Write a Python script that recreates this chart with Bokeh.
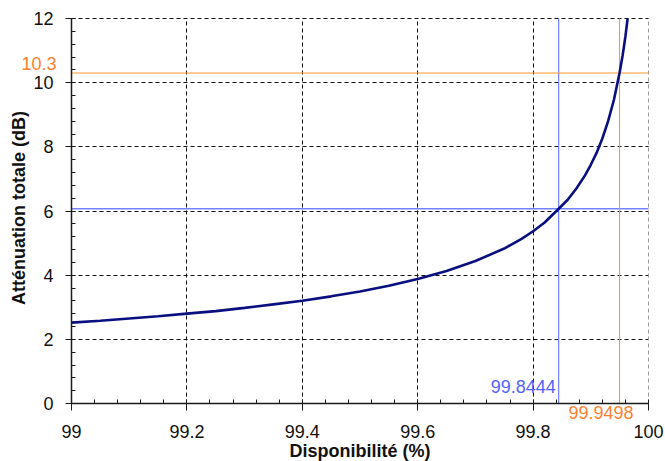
import math
from bokeh.plotting import figure
from bokeh.models import Label, FixedTicker, Range1d, Grid
from bokeh.embed import file_html
from bokeh.resources import INLINE

# Availability (%) vs total attenuation (dB)
availability = [99.00, 99.05, 99.10, 99.15, 99.20, 99.25, 99.30, 99.35, 99.40,
                99.45, 99.50, 99.55, 99.60, 99.65, 99.70, 99.75, 99.78, 99.80,
                99.82, 99.8444, 99.86, 99.875, 99.89, 99.90, 99.91, 99.92,
                99.93, 99.94, 99.9498, 99.955, 99.96, 99.9638]
attenuation = [2.52, 2.58, 2.65, 2.72, 2.80, 2.88, 2.98, 3.09, 3.20,
               3.34, 3.49, 3.67, 3.88, 4.13, 4.44, 4.83, 5.13, 5.37,
               5.64, 6.07, 6.35, 6.70, 7.11, 7.44, 7.81, 8.26,
               8.80, 9.46, 10.30, 10.83, 11.44, 12.00]

x_ticks = [99.0, 99.2, 99.4, 99.6, 99.8, 100.0]
y_ticks = [0, 2, 4, 6, 8, 10, 12]

# Marked operating points
blue_x, blue_y = 99.8444, 6.07
orange_x, orange_y = 99.9498, 10.3

FONT = "Liberation Sans"
BLUE = "#5163FF"
ORANGE_LINE = "#FF982E"
ORANGE_TEXT = "#FF7F30"
INK = "#111111"

# Canvas and the placement of the plotting area inside it
W, H = 665, 461
LEFT, RIGHT, TOP, BOTTOM = 71, 17, 18, 58
x0, x1 = x_ticks[0], x_ticks[-1]
y0, y1 = y_ticks[0], y_ticks[-1]
ux = (W - LEFT - RIGHT) / (x1 - x0)
uy = (H - TOP - BOTTOM) / (y1 - y0)

# The frame covers the whole canvas so that texts outside the data area stay visible
p = figure(width=W, height=H, output_backend="svg", toolbar_location=None,
           x_range=Range1d(x0 - LEFT / ux, x1 + RIGHT / ux),
           y_range=Range1d(y0 - BOTTOM / uy, y1 + TOP / uy),
           min_border=0, min_border_left=0, min_border_right=0,
           min_border_top=0, min_border_bottom=0)
p.outline_line_color = None
p.background_fill_color = "white"
p.border_fill_color = "white"

minor_x = [round(x0 + i * 0.04, 2) for i in range(26)]
minor_y = [round(i * 0.4, 1) for i in range(31)]

xa, ya = p.xaxis[0], p.yaxis[0]
xa.fixed_location = y0
ya.fixed_location = x0
xa.bounds = (x0, x1)
ya.bounds = (y0, y1)
xa.ticker = FixedTicker(ticks=x_ticks, minor_ticks=minor_x)
ya.ticker = FixedTicker(ticks=y_ticks, minor_ticks=minor_y)
xa.major_label_overrides = {99.0: "99", 100.0: "100"}

for ax in (xa, ya):
    ax.axis_line_color = "#1a1a1a"
    ax.axis_line_width = 1.5
    ax.major_tick_line_color = "#1a1a1a"
    ax.minor_tick_line_color = "#1a1a1a"
    ax.major_tick_in = 0
    ax.minor_tick_in = 4
    ax.minor_tick_out = 0
    ax.major_label_text_font = FONT
    ax.major_label_text_font_size = "18px"
    ax.major_label_text_color = INK
    ax.axis_label = None

xa.major_tick_out = 7
ya.major_tick_out = 6
xa.major_label_standoff = 14
ya.major_label_standoff = 12

# Dashed grid restricted to the data area
p.xgrid[0].ticker = FixedTicker(ticks=x_ticks[1:-1])
p.ygrid[0].ticker = FixedTicker(ticks=y_ticks[1:])
p.xgrid[0].cross_bounds = (y0, y1)
p.ygrid[0].cross_bounds = (x0, x1)
for g in (p.xgrid[0], p.ygrid[0]):
    g.grid_line_color = INK
    g.grid_line_dash = "4 3"
    g.grid_line_width = 1
edge = Grid(dimension=0, ticker=FixedTicker(ticks=[x1]), cross_bounds=(y0, y1),
            grid_line_color="#9a9a9a", grid_line_dash="4 3", grid_line_width=1)
p.add_layout(edge)

# Reference lines through the two operating points
p.segment(x0=[blue_x], y0=[y0], x1=[blue_x], y1=[y1], line_color=BLUE, line_width=1)
p.segment(x0=[x0], y0=[blue_y], x1=[x1], y1=[blue_y], line_color=BLUE,
          line_width=1.3, line_alpha=0.8)
p.segment(x0=[orange_x], y0=[y0], x1=[orange_x], y1=[y1], line_color=ORANGE_LINE, line_width=1.1)
p.segment(x0=[x0], y0=[orange_y], x1=[x1], y1=[orange_y], line_color=ORANGE_LINE, line_width=1.1)

p.line(availability, attenuation, line_color="#0A0F80", line_width=2.6)

# Value labels
p.add_layout(Label(x=blue_x, y=y0, text=f"{blue_x:.4f}", text_align="right",
                   text_baseline="bottom", x_offset=-3, y_offset=11,
                   text_font=FONT, text_font_size="18px", text_color=BLUE))
p.add_layout(Label(x=orange_x, y=y0, text=f"{orange_x:.4f}", text_align="right",
                   text_baseline="top", x_offset=14, y_offset=-2,
                   text_font=FONT, text_font_size="18px", text_color=ORANGE_TEXT))
p.add_layout(Label(x=x0, y=orange_y, text=f"{orange_y:.1f}", text_align="right",
                   text_baseline="bottom", x_offset=-15, y_offset=3,
                   text_font=FONT, text_font_size="18px", text_color=ORANGE_TEXT))

# Axis titles
p.add_layout(Label(x=(x0 + x1) / 2, y=y0, text="Disponibilité (%)", text_align="center",
                   text_baseline="top", y_offset=-37,
                   text_font=FONT, text_font_size="18px", text_font_style="bold",
                   text_color=INK))
p.add_layout(Label(x=x0, y=(y0 + y1) / 2, text="Atténuation totale (dB)",
                   text_align="center", text_baseline="middle", angle=math.pi / 2,
                   x_offset=-53, y_offset=3,
                   text_font=FONT, text_font_size="18px", text_font_style="bold",
                   text_color=INK))

open("out.html", "w").write(file_html(p, INLINE))
